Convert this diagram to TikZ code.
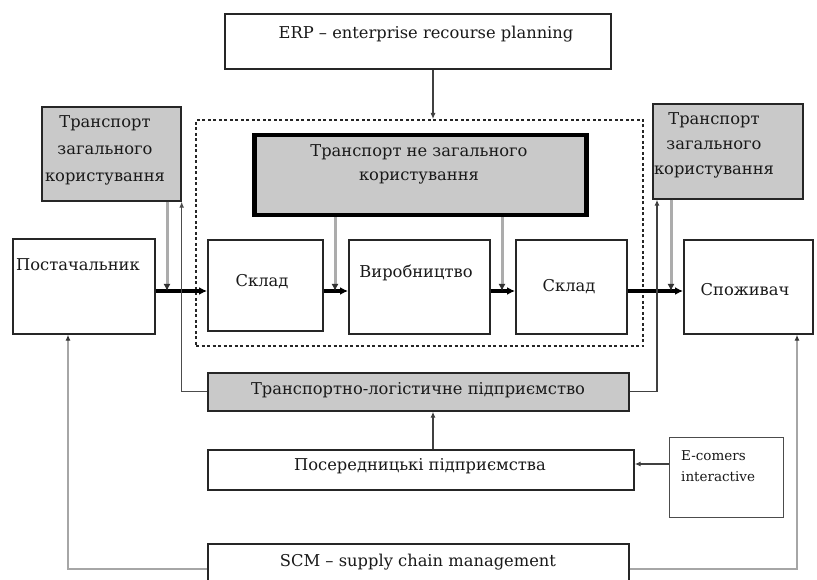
\documentclass[tikz,border=0pt]{standalone}
\usepackage{fontspec}
\setmainfont{DejaVu Serif}
\usetikzlibrary{arrows.meta}
\tikzset{
  box/.style={draw=black!85, line width=1.7pt, fill=white, inner sep=0pt},
  gbox/.style={box, fill=gray!42},
  txt/.style={inner sep=0pt, font=\fontsize{16.3}{26}\selectfont, align=center, text=black!90},
  flow/.style={line width=3.4pt, -{Latex[length=8pt,width=8pt]}},
  stub/.style={draw=gray!65, line width=3pt, -{Latex[length=7pt,width=7pt,color=black!80]}},
  thinl/.style={draw=black!75, line width=1.1pt, -{Latex[length=6pt,width=5pt]}},
  sline/.style={draw=gray!70, line width=1.8pt, -{Latex[length=6pt,width=5pt,color=black!80]}},
}
\begin{document}
\begin{tikzpicture}[x=1pt,y=-1pt]
\useasboundingbox (0,0) rectangle (817,580);
\clip (0,0) rectangle (817,580);
\fill[white] (0,0) rectangle (817,580);

% coordinates used by connectors
\coordinate (xa) at (433,0);
\coordinate (fy) at (0,291);
\coordinate (g1) at (167,0);
\coordinate (g2) at (335,0);
\coordinate (g3) at (502,0);
\coordinate (g4) at (671,0);
\coordinate (xr) at (657,0);
\coordinate (ye) at (0,464);
\coordinate (ysl) at (0,569);
\coordinate (xsl) at (68,0);
\coordinate (xsr) at (797,0);

% boxes
\node[box, minimum width=386pt, minimum height=55pt, anchor=north west] (erp) at (224,13) {};
\node[txt] (erpt) at (426,34) {ERP – enterprise recourse planning};

\node[draw=black!85, line width=2pt, dash pattern=on 3pt off 2.5pt, minimum width=447pt, minimum height=226pt, anchor=north west, inner sep=0pt] (dot) at (195,119) {};

\node[gbox, minimum width=139pt, minimum height=94pt, anchor=north west] (tl) at (41,106) {};
\node[txt, font=\fontsize{16.3}{27}\selectfont] (tlt) at (105,150) {Транспорт\\загального\\користування};

\node[gbox, minimum width=150pt, minimum height=95pt, anchor=north west] (tr) at (652,103) {};
\node[txt, font=\fontsize{16.3}{25}\selectfont] (trt) at (714,145) {Транспорт\\загального\\користування};

\node[gbox, line width=4.5pt, draw=black, minimum width=332pt, minimum height=80pt, anchor=north west] (tnz) at (252,133) {};
\node[txt, font=\fontsize{16.3}{24}\selectfont] (tnzt) at (419,164) {Транспорт не загального\\користування};

\node[box, minimum width=142pt, minimum height=95pt, anchor=north west] (post) at (12,238) {};
\node[txt, anchor=west] (postt) at (16,265) {Постачальник};

\node[box, minimum width=115pt, minimum height=91pt, anchor=north west] (s1) at (207,239) {};
\node[txt] (s1t) at (262,282) {Склад};

\node[box, minimum width=141pt, minimum height=94pt, anchor=north west] (vyr) at (348,239) {};
\node[txt] (vyrt) at (416,273) {Виробництво};

\node[box, minimum width=111pt, minimum height=94pt, anchor=north west] (s2) at (515,239) {};
\node[txt] (s2t) at (569,287) {Склад};

\node[box, minimum width=129pt, minimum height=94pt, anchor=north west] (spz) at (683,239) {};
\node[txt] (spzt) at (745,290) {Споживач};

\node[gbox, minimum width=421pt, minimum height=38pt, anchor=north west] (tlp) at (207,372) {};
\node[txt] (tlpt) at (418,390) {Транспортно-логістичне підприємство};

\node[box, minimum width=426pt, minimum height=40pt, anchor=north west] (pos) at (207,449) {};
\node[txt] (post2) at (420,466) {Посередницькі підприємства};

\node[box, draw=black!70, line width=1.4pt, minimum width=114pt, minimum height=80pt, anchor=north west] (ecom) at (669,437) {};
\node[txt, anchor=north west, align=left, font=\fontsize{13.5}{21}\selectfont] (ecomt) at (681,450) {E-comers\\interactive};

\node[box, minimum width=421pt, minimum height=50pt, anchor=north west] (scm) at (207,543) {};
\node[txt] (scmt) at (418,562) {SCM – supply chain management};

% connectors
\draw[thinl] (erp.south -| xa) -- (dot.north -| xa);

\draw[flow] (post.east |- fy) -- (s1.west |- fy);
\draw[flow] (s1.east |- fy) -- (vyr.west |- fy);
\draw[flow] (vyr.east |- fy) -- (s2.west |- fy);
\draw[flow] (s2.east |- fy) -- (spz.west |- fy);

\draw[stub] (tl.south -| g1) -- (g1 |- fy);
\draw[stub] (tnz.south -| g2) -- (g2 |- fy);
\draw[stub] (tnz.south -| g3) -- (g3 |- fy);
\draw[stub] (tr.south -| g4) -- (g4 |- fy);

\draw[thinl, draw=gray!60!black] (tlp.west) -| (tl.south east);
\draw[thinl] (tlp.east) -| (tr.south -| xr);

\draw[thinl] (pos.north -| xa) -- (tlp.south -| xa);
\draw[thinl] (ecom.west |- ye) -- (pos.east |- ye);

\draw[sline] (scm.west |- ysl) -| (post.south -| xsl);
\draw[sline] (scm.east |- ysl) -| (spz.south -| xsr);
\end{tikzpicture}
\end{document}
